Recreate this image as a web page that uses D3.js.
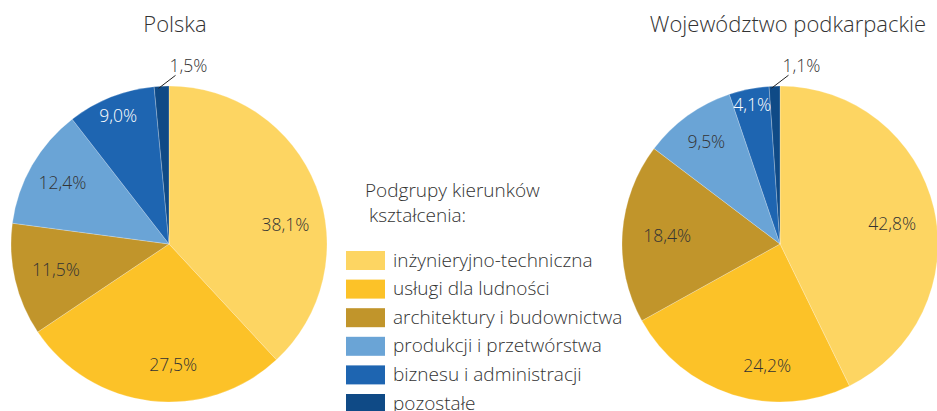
<!DOCTYPE html>
<html>
<head>
<meta charset="utf-8">
<script src="https://cdn.jsdelivr.net/npm/d3@7"></script>
<style>
  body { margin: 0; background: #fff; }
  text { font-family: "Open Sans", sans-serif; font-weight: 300; fill: #333; }
</style>
</head>
<body>
<script>
// data
const categories = ['inżynieryjno-techniczna', 'usługi dla ludności', 'architektury i budownictwa',
    'produkcji i przetwórstwa', 'biznesu i administracji', 'pozostałe'];
const polskaValues = [38.1, 27.5, 11.5, 12.4, 9.0, 1.5];
const podkarpackieValues = [42.8, 24.2, 18.4, 9.5, 4.1, 1.1];
const chartTitles = ['Polska', 'Województwo podkarpackie'];
const legendTitle = ['Podgrupy kierunków', 'kształcenia:'];

const colors = ['#fdd562', '#fcc228', '#c1952b', '#6aa4d6', '#1e65b1', '#0f4a86'];

window.addEventListener('load', function () {
    const svg = d3.select('body').append('svg')
        .attr('width', 937)
        .attr('height', 411);

    const color = d3.scaleOrdinal().domain(categories).range(colors);
    const fmt = v => d3.format('.1f')(v).replace('.', ',') + '%';

    // layout of the two pies; label placement = [radius, angle shift in degrees]
    const charts = [
        {title: chartTitles[0], values: polskaValues, cx: 169, cy: 244, titleX: 175,
            labels: [[118, 12], [121, -8.6], [116, 0], [123, 0], [138, 0]]},
        {title: chartTitles[1], values: podkarpackieValues, cx: 780, cy: 244, titleX: 788,
            labels: [[114, 3], [123, -11.5], [113, 0], [126, 0], [142, 0]]}
    ];
    const r = 158;

    const pie = d3.pie().sort(null).value(d => d);
    const arc = d3.arc().innerRadius(0).outerRadius(r);

    charts.forEach(function (c) {
        svg.append('text')
            .attr('x', c.titleX).attr('y', 32)
            .attr('text-anchor', 'middle')
            .style('font-size', '22px')
            .text(c.title);

        const g = svg.append('g').attr('transform', `translate(${c.cx},${c.cy})`);
        const arcs = pie(c.values);

        g.selectAll('path')
            .data(arcs)
            .enter()
            .append('path')
            .attr('d', arc)
            .attr('fill', (d, i) => color(categories[i]))
            .attr('stroke', '#fff')
            .attr('stroke-opacity', 0.4)
            .attr('stroke-width', 0.6);

        // inside labels
        g.selectAll('text.lab')
            .data(arcs.slice(0, 5))
            .enter()
            .append('text')
            .attr('class', 'lab')
            .attr('transform', function (d, i) {
                const a = (d.startAngle + d.endAngle) / 2 + c.labels[i][1] * Math.PI / 180;
                const lr = c.labels[i][0];
                return `translate(${lr * Math.sin(a)},${-lr * Math.cos(a)})`;
            })
            .attr('text-anchor', 'middle')
            .attr('dy', '0.35em')
            .style('font-size', '17.5px')
            .style('fill', (d, i) => i === 4 ? '#fff' : '#333')
            .text(d => fmt(d.data));

        // small slice gets a leader line
        const last = arcs[5];
        const a = (last.startAngle + last.endAngle) / 2 - 0.02;
        const x0 = (r - 2) * Math.sin(a), y0 = -(r - 2) * Math.cos(a);
        const x1 = x0 + 17, y1 = y0 - 13;
        g.append('line')
            .attr('x1', x0).attr('y1', y0)
            .attr('x2', x1).attr('y2', y1)
            .attr('stroke', '#222').attr('stroke-width', 1);
        g.append('text')
            .attr('x', x1 - 6).attr('y', y1 - 3)
            .style('font-size', '17.5px')
            .text(fmt(last.data));
    });

    // legend
    const legend = svg.append('g');
    legend.selectAll('text.title')
        .data(legendTitle)
        .enter()
        .append('text')
        .attr('class', 'title')
        .attr('x', (d, i) => i === 0 ? 365 : 369)
        .attr('y', (d, i) => 197 + i * 25)
        .style('font-size', '19px')
        .text(d => d);

    const rows = legend.selectAll('g.row')
        .data(categories)
        .enter()
        .append('g')
        .attr('class', 'row')
        .attr('transform', (d, i) => `translate(346,${251 + i * 28.6})`);
    rows.append('rect')
        .attr('width', 39).attr('height', 19)
        .attr('fill', d => color(d));
    rows.append('text')
        .attr('x', 47).attr('y', 9)
        .attr('dy', '0.35em')
        .style('font-size', '19px')
        .text(d => d);
});
</script>
</body>
</html>
